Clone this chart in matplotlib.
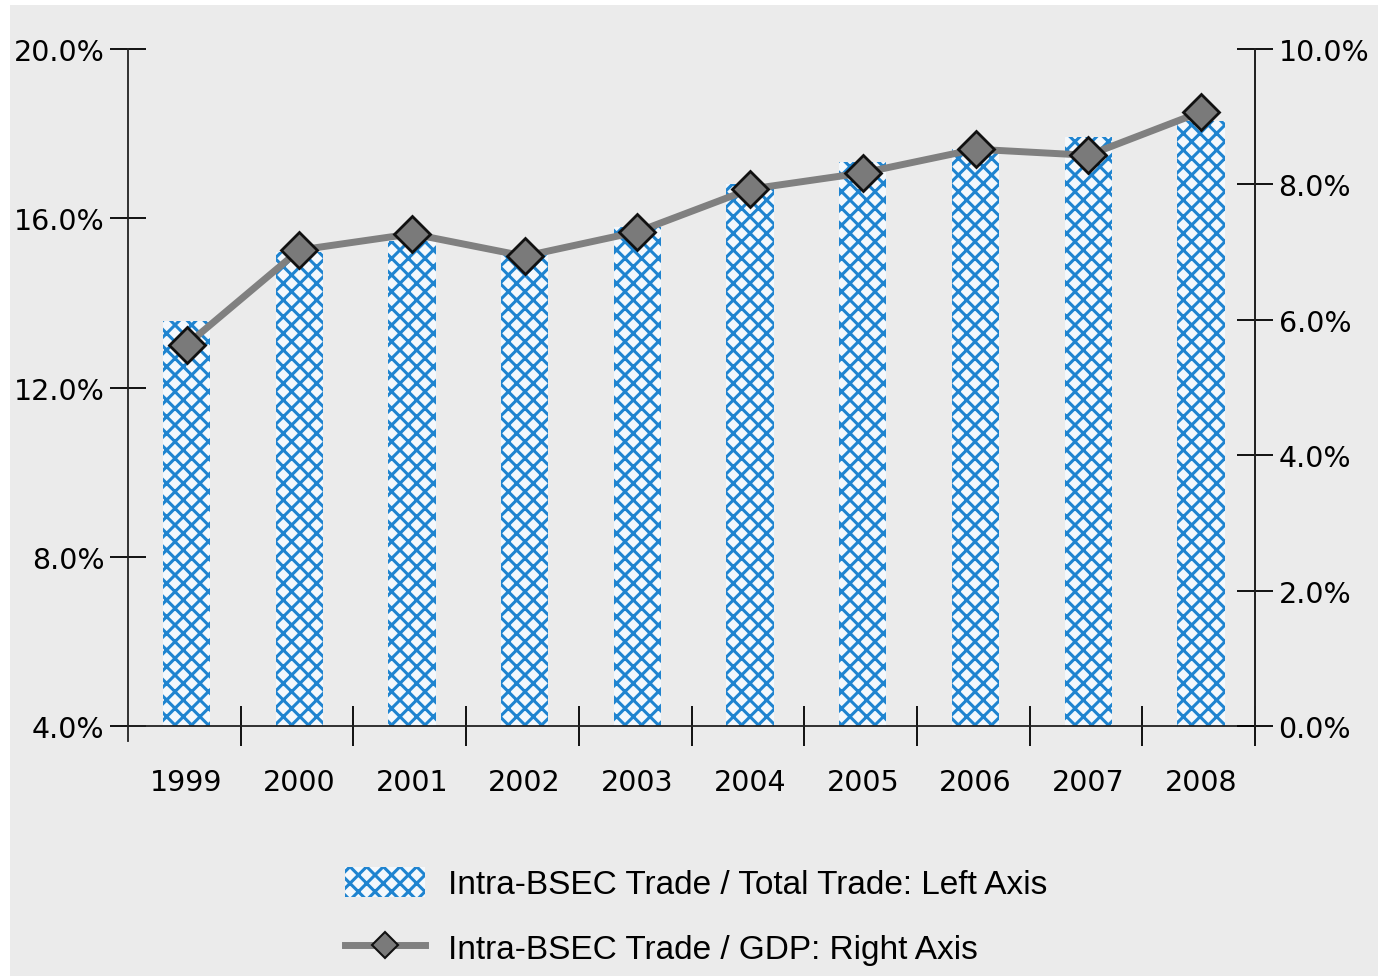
import matplotlib
matplotlib.use("Agg")
import matplotlib.pyplot as plt
from matplotlib.patches import Rectangle, Patch
from matplotlib.lines import Line2D
from matplotlib.ticker import FuncFormatter, FixedLocator
import numpy as np

years = ["1999", "2000", "2001", "2002", "2003", "2004", "2005", "2006", "2007", "2008"]
trade_share = [13.57, 15.2, 15.46, 15.15, 15.79, 16.81, 17.33, 17.64, 17.92, 18.30]  # left axis, %
trade_gdp = [5.63, 7.03, 7.27, 6.94, 7.30, 7.93, 8.17, 8.52, 8.43, 9.07]  # right axis, %
left_ticks = [4, 8, 12, 16, 20]
right_ticks = [0, 2, 4, 6, 8, 10]
label_bar = "Intra-BSEC Trade / Total Trade: Left Axis"
label_line = "Intra-BSEC Trade / GDP: Right Axis"

plt.rcParams["font.family"] = ["DejaVu Sans"]
plt.rcParams["hatch.linewidth"] = 2.2

BG = "#ebebeb"
BLUE = "#1f84d0"
W, H = 1378, 979
fig = plt.figure(figsize=(W / 100, H / 100), dpi=100, facecolor="white")
fig.patches.append(Rectangle((10 / W, 2 / H), 1 - 10 / W, 1 - 8 / H,
                             transform=fig.transFigure, facecolor=BG,
                             edgecolor="none", zorder=-10))

ax = fig.add_axes([128 / W, 1 - 727 / H, (1255 - 128) / W, (727 - 50) / H])
ax.set_facecolor("none")
x = np.arange(len(years))
ax.bar(x, [v - 4 for v in trade_share], bottom=4, width=0.42, facecolor="#f4f8fc",
       edgecolor=BLUE, linewidth=0, hatch="xx", zorder=2)
ax.set_ylim(4, 20)
ax.set_xlim(-0.52, 9.48)
ax.set_yticks(left_ticks)
ax.yaxis.set_major_formatter(FuncFormatter(lambda v, p: f"{v:.1f}%"))
ax.tick_params(axis="y", direction="inout", length=26, width=1.3, labelsize=20.5, pad=4)
ax.set_xticks(x)
ax.set_xticklabels(years)
ax.tick_params(axis="x", which="major", length=0, labelsize=20.5, pad=30)
ax.xaxis.set_minor_locator(FixedLocator(list(np.arange(-0.52, 9.6, 1.0)[1:])))
ax.tick_params(axis="x", which="minor", direction="inout", length=29, width=1.3)
for s in ["top"]:
    ax.spines[s].set_visible(False)
for s in ["left", "bottom", "right"]:
    ax.spines[s].set_linewidth(1.3)
    ax.spines[s].set_color("#222222")
ax.spines["left"].set_bounds(3.65, 20)

ax2 = ax.twinx()
ax2.set_ylim(0, 10)
ax2.set_yticks(right_ticks)
ax2.yaxis.set_major_formatter(FuncFormatter(lambda v, p: f"{v:.1f}%"))
ax2.tick_params(axis="y", direction="inout", length=26, width=1.3, labelsize=20.5, pad=4)
for s in ["top", "left", "bottom"]:
    ax2.spines[s].set_visible(False)
ax2.spines["right"].set_linewidth(1.3)
ax2.spines["right"].set_color("#222222")
ax2.plot(x, trade_gdp, color="#808080", linewidth=5, marker="D", markersize=18,
         markerfacecolor="#7a7a7a", markeredgecolor="#111111", markeredgewidth=2, zorder=3)

handles = [Patch(facecolor="#f4f8fc", edgecolor=BLUE, linewidth=0, hatch="xx"),
           Line2D([], [], color="#808080", linewidth=5, marker="D", markersize=13,
                  markerfacecolor="#7a7a7a", markeredgecolor="#111111", markeredgewidth=1.5)]
leg = fig.legend(handles, [label_bar, label_line], loc="upper left",
                 bbox_to_anchor=(315 / W, 1 - 838 / H), frameon=False,
                 prop={"family": ["Liberation Sans", "DejaVu Sans"], "size": 24},
                 handlelength=2.4, handleheight=1.0, handletextpad=0.7, labelspacing=0.95)

fig.savefig("out.png", dpi=100, facecolor="white")
